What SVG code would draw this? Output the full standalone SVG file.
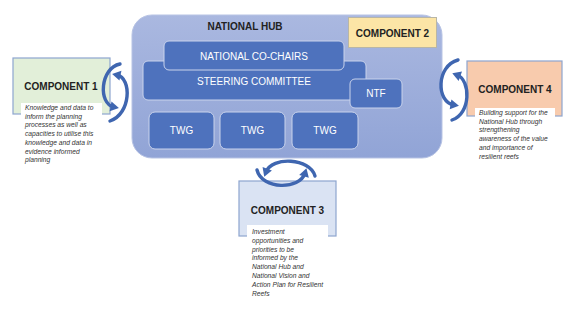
<svg xmlns="http://www.w3.org/2000/svg" width="583" height="314" viewBox="0 0 583 314">
<defs>
<linearGradient id="hubg" x1="0" y1="0" x2="0" y2="1">
<stop offset="0" stop-color="#aab8e0"/>
<stop offset="1" stop-color="#91a4d6"/>
</linearGradient>
<marker id="ah" markerUnits="userSpaceOnUse" markerWidth="11" markerHeight="11" refX="5" refY="5.5" orient="auto">
<path d="M1.5,0.5 L10,5.5 L1.5,10.5 Z" fill="#3f66b0"/>
</marker>
<style>
.blue{fill:#4e72bd;stroke:#c9d3ec;stroke-width:1}
.wt{font-family:"Liberation Sans",Arial,sans-serif;font-size:10px;fill:#ffffff;text-anchor:middle}
.bt{font-family:"Liberation Sans",Arial,sans-serif;font-size:10px;font-weight:bold;fill:#222;text-anchor:middle}
.it{font-family:"Liberation Sans",Arial,sans-serif;font-size:6.7px;font-style:italic;fill:#333333}
.comp{stroke:#8ea5cf;stroke-width:1.2}
.arc{fill:none;stroke:#3f66b0;stroke-width:3.4;stroke-linecap:round;marker-end:url(#ah)}
</style>
</defs>
<rect width="583" height="314" fill="#ffffff"/>

<g id="national-hub">
<rect x="132" y="15" width="310" height="143" rx="20" fill="url(#hubg)" stroke="#b7c3e4" stroke-width="1"/>
<text class="bt" x="245" y="30" font-size="11">NATIONAL HUB</text>
</g>

<g id="component-2">
<rect x="348.5" y="17.5" width="88" height="30" fill="#fce5a6" stroke="#b9b6a6" stroke-width="1"/>
<text class="bt" x="392.5" y="37">COMPONENT 2</text>
</g>

<g id="steering-committee">
<rect class="blue" x="143" y="61" width="223" height="39" rx="5"/>
<text class="wt" x="254" y="85">STEERING COMMITTEE</text>
</g>

<g id="national-co-chairs">
<rect class="blue" x="164" y="41" width="180" height="29" rx="5"/>
<text class="wt" x="254" y="59.5">NATIONAL CO-CHAIRS</text>
</g>

<g id="ntf">
<rect class="blue" x="350" y="79" width="52" height="29" rx="5"/>
<text class="wt" x="376" y="97">NTF</text>
</g>

<g id="twg-1">
<rect class="blue" x="149" y="112" width="65" height="37" rx="6"/>
<text class="wt" x="181.5" y="134">TWG</text>
</g>
<g id="twg-2">
<rect class="blue" x="220" y="112" width="65" height="37" rx="6"/>
<text class="wt" x="252.5" y="134">TWG</text>
</g>
<g id="twg-3">
<rect class="blue" x="292" y="112" width="66" height="37" rx="6"/>
<text class="wt" x="325" y="134">TWG</text>
</g>

<g id="component-1">
<rect class="comp" x="13" y="58" width="97" height="56" fill="#e2efd9"/>
<text class="bt" x="61" y="90">COMPONENT 1</text>
<rect x="21" y="103" width="81" height="62" fill="#ffffff"/>
<text class="it" x="25" y="110">Knowledge and data to</text>
<text class="it" x="25" y="118.7">inform the planning</text>
<text class="it" x="25" y="127.4">processes as well as</text>
<text class="it" x="25" y="136.1">capacities to utilise this</text>
<text class="it" x="25" y="144.8">knowledge and data in</text>
<text class="it" x="25" y="153.5">evidence informed</text>
<text class="it" x="25" y="162.2">planning</text>
</g>

<g id="component-4">
<rect class="comp" x="467" y="61" width="95" height="55" fill="#f8cbad"/>
<text class="bt" x="515" y="92.5">COMPONENT 4</text>
<rect x="475" y="108" width="80" height="54" fill="#ffffff"/>
<text class="it" x="479" y="115">Building support for the</text>
<text class="it" x="479" y="123.7">National Hub through</text>
<text class="it" x="479" y="132.4">strengthening</text>
<text class="it" x="479" y="141.1">awareness of the value</text>
<text class="it" x="479" y="149.8">and importance of</text>
<text class="it" x="479" y="158.5">resilient reefs</text>
</g>

<g id="component-3">
<rect class="comp" x="239" y="181" width="97" height="55" fill="#dae3f3"/>
<text class="bt" x="287.5" y="214">COMPONENT 3</text>
<rect x="247" y="225" width="81" height="74" fill="#ffffff"/>
<text class="it" x="252" y="234">Investment</text>
<text class="it" x="252" y="242.8">opportunities and</text>
<text class="it" x="252" y="251.6">priorities to be</text>
<text class="it" x="252" y="260.4">informed by the</text>
<text class="it" x="252" y="269.2">National Hub and</text>
<text class="it" x="252" y="278">National Vision and</text>
<text class="it" x="252" y="286.8">Action Plan for Resilient</text>
<text class="it" x="252" y="295.6">Reefs</text>
</g>

<g id="connectors">
<path class="arc" d="M120,64 C100,68 98,104 114,107"/>
<path class="arc" d="M110,121 C131,114 132,78 117,75"/>
<path class="arc" d="M458,60 C436,66 436,102 454,105"/>
<path class="arc" d="M452,120 C471,114 471,80 457,75"/>
<path class="arc" d="M315,176 C310,158 272,156 266,172"/>
<path class="arc" d="M257,170 C262,190 300,190 305,173"/>
</g>
</svg>
